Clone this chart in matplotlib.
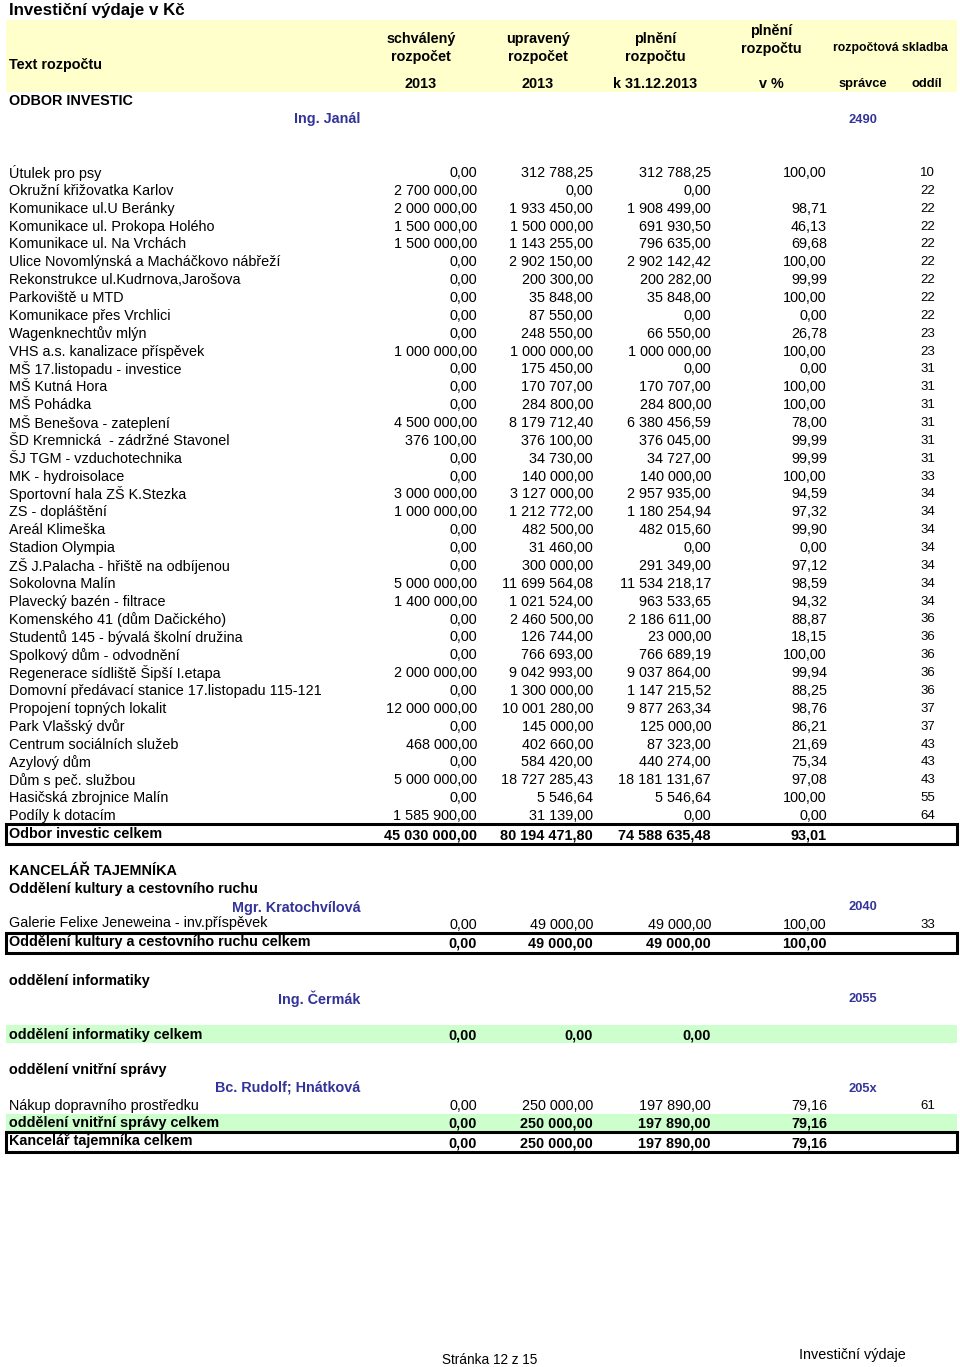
import matplotlib.pyplot as plt
from matplotlib.patches import Rectangle

plt.rcParams['font.family'] = ['Liberation Sans', 'DejaVu Sans']

# --- data -------------------------------------------------------------
columns = ["schválený\nrozpočet", "upravený\nrozpočet", "plnění\nrozpočtu", "plnění\nrozpočtu"]
col_years = ["2013", "2013", "k 31.12.2013", "v %"]

inv_names = [
    "Útulek pro psy", "Okružní křižovatka Karlov", "Komunikace ul.U Beránky",
    "Komunikace ul. Prokopa Holého", "Komunikace ul. Na Vrchách",
    "Ulice Novomlýnská a Macháčkovo nábřeží", "Rekonstrukce ul.Kudrnova,Jarošova",
    "Parkoviště u MTD", "Komunikace přes Vrchlici", "Wagenknechtův mlýn",
    "VHS a.s. kanalizace příspěvek", "MŠ 17.listopadu - investice", "MŠ Kutná Hora",
    "MŠ Pohádka", "MŠ Benešova - zateplení", "ŠD Kremnická  - zádržné Stavonel",
    "ŠJ TGM - vzduchotechnika", "MK - hydroisolace", "Sportovní hala ZŠ K.Stezka",
    "ZS - dopláštění", "Areál Klimeška", "Stadion Olympia",
    "ZŠ J.Palacha - hřiště na odbíjenou", "Sokolovna Malín", "Plavecký bazén - filtrace",
    "Komenského 41 (dům Dačického)", "Studentů 145 - bývalá školní družina",
    "Spolkový dům - odvodnění", "Regenerace sídliště Šipší I.etapa",
    "Domovní předávací stanice 17.listopadu 115-121", "Propojení topných lokalit",
    "Park Vlašský dvůr", "Centrum sociálních služeb", "Azylový dům",
    "Dům s peč. službou", "Hasičská zbrojnice Malín", "Podíly k dotacím",
]
inv_schvaleny = [
    0, 2700000, 2000000, 1500000, 1500000, 0, 0, 0, 0, 0, 1000000, 0, 0, 0,
    4500000, 376100, 0, 0, 3000000, 1000000, 0, 0, 0, 5000000, 1400000, 0, 0, 0,
    2000000, 0, 12000000, 0, 468000, 0, 5000000, 0, 1585900,
]
inv_upraveny = [
    312788.25, 0, 1933450, 1500000, 1143255, 2902150, 200300, 35848, 87550, 248550,
    1000000, 175450, 170707, 284800, 8179712.40, 376100, 34730, 140000, 3127000,
    1212772, 482500, 31460, 300000, 11699564.08, 1021524, 2460500, 126744, 766693,
    9042993, 1300000, 10001280, 145000, 402660, 584420, 18727285.43, 5546.64, 31139,
]
inv_plneni = [
    312788.25, 0, 1908499, 691930.50, 796635, 2902142.42, 200282, 35848, 0, 66550,
    1000000, 0, 170707, 284800, 6380456.59, 376045, 34727, 140000, 2957935,
    1180254.94, 482015.60, 0, 291349, 11534218.17, 963533.65, 2186611, 23000,
    766689.19, 9037864, 1147215.52, 9877263.34, 125000, 87323, 440274, 18181131.67,
    5546.64, 0,
]
inv_pct = [
    100.00, None, 98.71, 46.13, 69.68, 100.00, 99.99, 100.00, 0.00, 26.78, 100.00,
    0.00, 100.00, 100.00, 78.00, 99.99, 99.99, 100.00, 94.59, 97.32, 99.90, 0.00,
    97.12, 98.59, 94.32, 88.87, 18.15, 100.00, 99.94, 88.25, 98.76, 86.21, 21.69,
    75.34, 97.08, 100.00, 0.00,
]
inv_oddil = [
    10, 22, 22, 22, 22, 22, 22, 22, 22, 23, 23, 31, 31, 31, 31, 31, 31, 33, 34, 34,
    34, 34, 34, 34, 34, 36, 36, 36, 36, 36, 37, 37, 43, 43, 43, 55, 64,
]
inv_total = [45030000, 80194471.80, 74588635.48, 93.01]

kult_row = ["Galerie Felixe Jeneweina - inv.příspěvek", 0, 49000, 49000, 100.00, 33]
kult_total = [0, 49000, 49000, 100.00]
info_total = [0, 0, 0, None]
vs_row = ["Nákup dopravního prostředku", 0, 250000, 197890, 79.16, 61]
vs_total = [0, 250000, 197890, 79.16]
kt_total = [0, 250000, 197890, 79.16]


def fmt(v):
    if v is None:
        return ""
    s = f"{v:,.2f}"
    return s.replace(",", " ").replace(".", ",")


# --- drawing ----------------------------------------------------------
fig = plt.figure(figsize=(9.6, 13.67), dpi=100)
ax = fig.add_axes([0, 0, 1, 1])
ax.set_xlim(0, 960)
ax.set_ylim(1367, 0)
ax.axis('off')

navy = '#333399'
fs = 10.4
col_right = [477, 593, 711, 827]
x_oddil = 935
x_spravce = 863


def t(x, y, s, ha='left', size=fs, bold=False, color='black', **kw):
    ax.text(x, y + 1, s, ha=ha, va='center', fontsize=size,
            fontweight='bold' if bold else 'normal', color=color, **kw)


def values_row(y, vals, oddil=None, bold=False):
    for x, v in zip(col_right, vals):
        t(x, y, fmt(v), ha='right', bold=bold)
    if oddil is not None:
        t(x_oddil, y, str(oddil), ha='right', size=9.5)


def boxed(y0, y1):
    ax.add_patch(Rectangle((6, y0), 951, y1 - y0, fill=False, lw=2.2,
                           ec='black', zorder=3))


def band(y0, y1, color):
    ax.add_patch(Rectangle((6, y0), 951, y1 - y0, color=color, lw=0, zorder=0))


# title and header
t(9, 9, "Investiční výdaje v Kč", size=12.2, bold=True)
band(20, 92, '#FFFFCC')
t(9, 64, "Text rozpočtu", bold=True)
head_x = [421, 538, 655, 771]
head_y = [47, 47, 47, 39]
for x, y, lab, yr in zip(head_x, head_y, columns, col_years):
    t(x, y, lab, ha='center', bold=True, linespacing=1.3)
    t(x, 83, yr, ha='center', bold=True)
t(890, 47, "rozpočtová skladba", ha='center', size=8.8, bold=True)
t(x_spravce, 83, "správce", ha='center', size=9.3, bold=True)
t(927, 83, "oddíl", ha='center', size=9.3, bold=True)

# odbor investic
t(9, 100, "ODBOR INVESTIC", bold=True)
t(294, 118, "Ing. Janál", bold=True, color=navy)
t(x_spravce, 119, "2490", ha='center', size=9.3, bold=True, color=navy)

y0, step = 172, 17.86
for i, name in enumerate(inv_names):
    y = y0 + i * step
    t(9, y, name)
    values_row(y, [inv_schvaleny[i], inv_upraveny[i], inv_plneni[i], inv_pct[i]],
               inv_oddil[i])

boxed(824, 844)
t(9, 833, "Odbor investic celkem", bold=True)
values_row(834, inv_total, bold=True)

# kancelář tajemníka
t(9, 870, "KANCELÁŘ TAJEMNÍKA", bold=True)
t(9, 888, "Oddělení kultury a cestovního ruchu", bold=True)
t(232, 907, "Mgr. Kratochvílová", bold=True, color=navy)
t(x_spravce, 906, "2040", ha='center', size=9.3, bold=True, color=navy)
t(9, 922, kult_row[0])
values_row(924, kult_row[1:5], kult_row[5])
boxed(933, 953)
t(9, 941, "Oddělení kultury a cestovního ruchu celkem", bold=True)
values_row(943, kult_total, bold=True)

t(9, 980, "oddělení informatiky", bold=True)
t(278, 998, "Ing. Čermák", bold=True, color=navy)
t(x_spravce, 998, "2055", ha='center', size=9.3, bold=True, color=navy)
band(1025, 1043, '#CCFFCC')
t(9, 1034, "oddělení informatiky celkem", bold=True)
values_row(1034, info_total, bold=True)

t(9, 1069, "oddělení vnitřní správy", bold=True)
t(215, 1087, "Bc. Rudolf; Hnátková", bold=True, color=navy)
t(x_spravce, 1088, "205x", ha='center', size=9.3, bold=True, color=navy)
t(9, 1105, vs_row[0])
values_row(1105, vs_row[1:5], vs_row[5])
band(1114, 1131, '#CCFFCC')
t(9, 1122, "oddělení vnitřní správy celkem", bold=True)
values_row(1123, vs_total, bold=True)
boxed(1132, 1152)
t(9, 1140, "Kancelář tajemníka celkem", bold=True)
values_row(1142, kt_total, bold=True)

# footer
t(490, 1359, "Stránka 12 z 15", ha='center', size=9.8)
t(852, 1354, "Investiční výdaje", ha='center', size=10.4)

fig.savefig("out.png", dpi=100)
